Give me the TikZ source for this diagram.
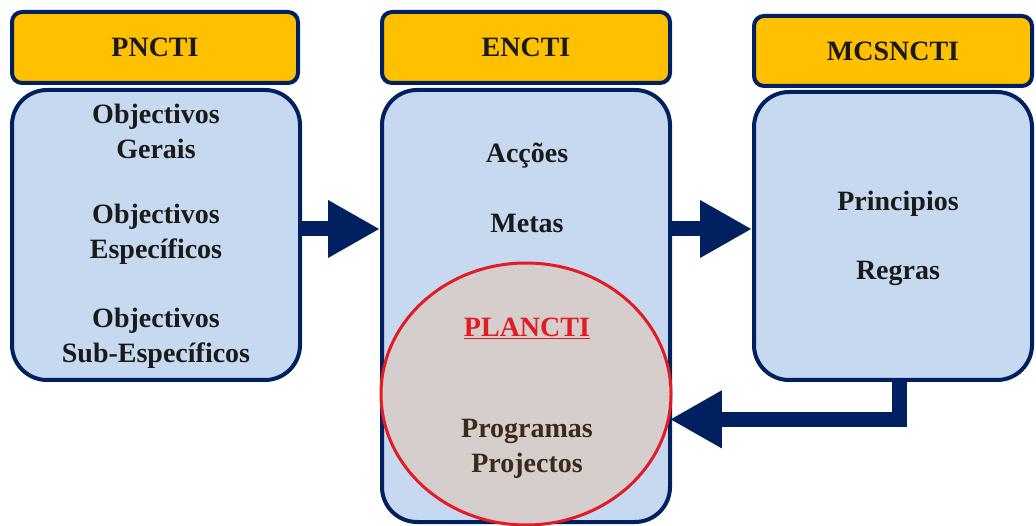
\documentclass[tikz,border=0pt]{standalone}
\usepackage{fontspec}
\setmainfont{Liberation Serif}
\usetikzlibrary{shapes.geometric,arrows.meta}
\definecolor{navy}{HTML}{002060}
\definecolor{headorange}{HTML}{FFC000}
\definecolor{bodyblue}{HTML}{C6D9F1}
\definecolor{circfill}{HTML}{D6CDCD}
\definecolor{circred}{HTML}{E31B23}
\definecolor{txtdark}{HTML}{1A1A1A}
\definecolor{txtbrown}{HTML}{3A2A1C}
\begin{document}
\begin{tikzpicture}[x=1pt,y=-1pt,
  headbox/.style={draw=navy, line width=4pt, fill=headorange, rounded corners=10pt, inner sep=0pt, font=\fontsize{28}{34}\selectfont\bfseries, text=txtdark},
  bodybox/.style={draw=navy, line width=4pt, fill=bodyblue, rounded corners=35pt, inner sep=0pt},
  label/.style={align=center, inner sep=0pt, font=\fontsize{28}{35}\selectfont\bfseries, text=txtdark},
  bigarrow/.style={draw=navy, line width=15pt, -{Triangle[length=52pt,width=54pt]}}
]
\useasboundingbox[fill=white] (0,0) rectangle (1036,526);
% bodies
\node[bodybox, minimum width=288pt, minimum height=290pt] (b1) at (156,235) {};
\node[bodybox, minimum width=288pt, minimum height=432pt] (b2) at (526,306) {};
\node[bodybox, minimum width=278pt, minimum height=288pt] (b3) at (893,236) {};
% headers
\node[headbox, minimum width=286pt, minimum height=71pt] (h1) at (155,47.5) {PNCTI};
\node[headbox, minimum width=288pt, minimum height=71pt] (h2) at (526,47.5) {ENCTI};
\node[headbox, minimum width=278pt, minimum height=70pt] (h3) at (893,51) {\raisebox{-2pt}{MCSNCTI}};
% circle
\node[ellipse, draw=circred, line width=3pt, fill=circfill, inner sep=0pt, minimum width=290pt, minimum height=262pt] (circ) at (526,394) {};
% texts
\node[label] (t1a) at (156,131) {Objectivos\\Gerais};
\node[label] (t1b) at (156,234) {Objectivos\\Específicos};
\node[label] (t1c) at (156,338) {Objectivos\\Sub-Específicos};
\node[label] (t2a) at (527,156) {Acções};
\node[label] (t2b) at (527,223) {Metas};
\node[label, text=circred] (plan) at (527,328) {\underline{PLANCTI}};
\node[label, text=txtbrown] (t2c) at (527,449) {Programas\\Projectos};
\node[label] (t3a) at (898,204) {Principios};
\node[label] (t3b) at (898,273) {Regras};
% arrows
\coordinate (row) at (0,229);
\draw[bigarrow] (b1.east |- row) -- (b2.west |- row);
\draw[bigarrow] (b2.east |- row) -- (b3.west |- row);
\draw[bigarrow, line join=miter] ([xshift=6pt]b3.south) |- (circ.-10);
\end{tikzpicture}
\end{document}
